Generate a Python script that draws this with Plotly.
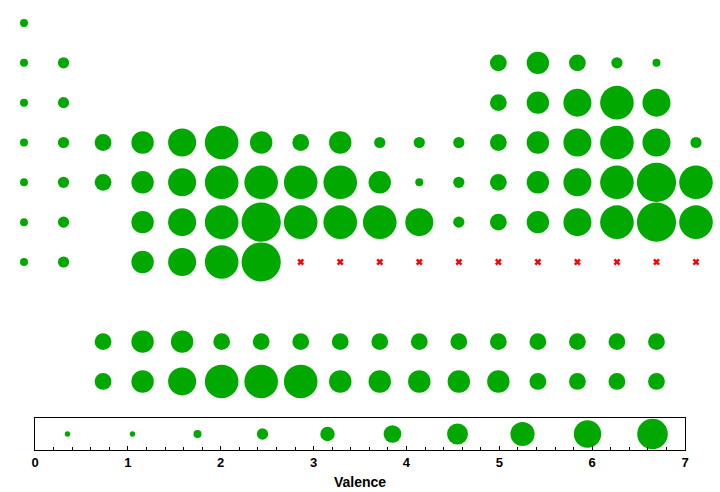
import plotly.graph_objects as go

# ---- data: periodic table valences ----
main_symbols = [
    "H", "He",
    "Li", "Be", "B", "C", "N", "O", "F", "Ne",
    "Na", "Mg", "Al", "Si", "P", "S", "Cl", "Ar",
    "K", "Ca", "Sc", "Ti", "V", "Cr", "Mn", "Fe", "Co", "Ni", "Cu", "Zn", "Ga", "Ge", "As", "Se", "Br", "Kr",
    "Rb", "Sr", "Y", "Zr", "Nb", "Mo", "Tc", "Ru", "Rh", "Pd", "Ag", "Cd", "In", "Sn", "Sb", "Te", "I", "Xe",
    "Cs", "Ba", "Hf", "Ta", "W", "Re", "Os", "Ir", "Pt", "Au", "Hg", "Tl", "Pb", "Bi", "Po", "At", "Rn",
    "Fr", "Ra", "Rf", "Db", "Sg", "Bh",
]
main_group = [
    1, 18,
    1, 2, 13, 14, 15, 16, 17, 18,
    1, 2, 13, 14, 15, 16, 17, 18,
    1, 2, 3, 4, 5, 6, 7, 8, 9, 10, 11, 12, 13, 14, 15, 16, 17, 18,
    1, 2, 3, 4, 5, 6, 7, 8, 9, 10, 11, 12, 13, 14, 15, 16, 17, 18,
    1, 2, 4, 5, 6, 7, 8, 9, 10, 11, 12, 13, 14, 15, 16, 17, 18,
    1, 2, 4, 5, 6, 7,
]
main_period = [
    1, 1,
    2, 2, 2, 2, 2, 2, 2, 2,
    3, 3, 3, 3, 3, 3, 3, 3,
    4, 4, 4, 4, 4, 4, 4, 4, 4, 4, 4, 4, 4, 4, 4, 4, 4, 4,
    5, 5, 5, 5, 5, 5, 5, 5, 5, 5, 5, 5, 5, 5, 5, 5, 5, 5,
    6, 6, 6, 6, 6, 6, 6, 6, 6, 6, 6, 6, 6, 6, 6, 6, 6,
    7, 7, 7, 7, 7, 7,
]
main_valence = [
    1, 0,
    1, 2, 3, 4, 3, 2, 1, 0,
    1, 2, 3, 4, 5, 6, 5, 0,
    1, 2, 3, 4, 5, 6, 4, 3, 4, 2, 2, 2, 3, 4, 5, 6, 5, 2,
    1, 2, 3, 4, 5, 6, 6, 6, 6, 4, 1, 2, 3, 4, 5, 6, 7, 6,
    1, 2, 4, 5, 6, 7, 6, 6, 6, 5, 2, 3, 4, 5, 6, 7, 6,
    1, 2, 4, 5, 6, 7,
]

lanthanides = ["La", "Ce", "Pr", "Nd", "Pm", "Sm", "Eu", "Gd", "Tb", "Dy", "Ho", "Er", "Tm", "Yb", "Lu"]
lanthanide_valence = [3, 4, 4, 3, 3, 3, 3, 3, 3, 3, 3, 3, 3, 3, 3]
actinides = ["Ac", "Th", "Pa", "U", "Np", "Pu", "Am", "Cm", "Bk", "Cf", "Es", "Fm", "Md", "No", "Lr"]
actinide_valence = [3, 4, 5, 6, 6, 6, 4, 4, 4, 4, 4, 3, 3, 3, 3]
fblock_group = [3, 4, 5, 6, 7, 8, 9, 10, 11, 12, 13, 14, 15, 16, 17]
lanthanide_row = 9
actinide_row = 10

missing_symbols = ["Hs", "Mt", "Ds", "Rg", "Cn", "Nh", "Fl", "Mc", "Lv", "Ts", "Og"]
missing_group = [8, 9, 10, 11, 12, 13, 14, 15, 16, 17, 18]
missing_period = [7, 7, 7, 7, 7, 7, 7, 7, 7, 7, 7]

legend_valence = [0.35, 1.05, 1.75, 2.45, 3.15, 3.85, 4.55, 5.25, 5.95, 6.65]

GREEN = "rgb(0,168,0)"
W, H = 720, 492

xs = main_group + fblock_group + fblock_group
ys = main_period + [lanthanide_row] * len(lanthanides) + [actinide_row] * len(actinides)
vals = main_valence + lanthanide_valence + actinide_valence
names = main_symbols + lanthanides + actinides

fig = go.Figure()
fig.add_trace(go.Scatter(
    x=xs, y=ys, mode="markers", text=names,
    marker=dict(size=vals, sizemode="diameter", sizeref=1 / 5.6, sizemin=4,
                color=GREEN, opacity=1, line=dict(width=0)),
    xaxis="x", yaxis="y", showlegend=False, cliponaxis=False,
    hovertemplate="%{text}: %{marker.size}<extra></extra>",
))
fig.add_trace(go.Scatter(
    x=missing_group, y=missing_period, mode="markers", text=missing_symbols,
    marker=dict(symbol="x", size=6, color="red", opacity=1, line=dict(width=0)),
    xaxis="x", yaxis="y", showlegend=False, cliponaxis=False,
))
fig.add_trace(go.Scatter(
    x=legend_valence, y=[0.5] * len(legend_valence), mode="markers",
    marker=dict(size=legend_valence, sizemode="diameter", sizeref=1 / 4.6, sizemin=2.7,
                color=GREEN, opacity=1, line=dict(width=0)),
    xaxis="x2", yaxis="y2", showlegend=False,
))

# pixel geometry of the table area
col_px0, col_px1 = 24, 696
row_px0, row_sp = 23, 39.83
col_sp = (col_px1 - col_px0) / 17
x0 = 1 - col_px0 / col_sp
x1 = x0 + W / col_sp
top_px = 400
r0 = 1 - row_px0 / row_sp
r1 = r0 + top_px / row_sp

box_l, box_r, box_t, box_b = 35, 685, 418, 450

font = dict(family="Liberation Sans, Arial, sans-serif", color="black")

fig.update_layout(
    width=W, height=H,
    margin=dict(l=0, r=0, t=0, b=0, pad=0, autoexpand=False),
    paper_bgcolor="white", plot_bgcolor="white",
    xaxis=dict(domain=[0, 1], range=[x0, x1], visible=False, fixedrange=True),
    yaxis=dict(domain=[(H - top_px) / H, 1], range=[r1, r0], visible=False, fixedrange=True),
    xaxis2=dict(
        domain=[box_l / W, box_r / W], range=[0, 7], anchor="y2",
        showline=True, linecolor="black", linewidth=1, mirror=True,
        showgrid=False, zeroline=False,
        tickmode="linear", tick0=0, dtick=1,
        ticks="inside", ticklen=4, tickcolor="black",
        minor=dict(dtick=0.2, tick0=0, ticks="inside", ticklen=3, tickcolor="black", showgrid=False),
        tickfont=dict(size=13, weight="bold", **font),
        title=dict(text="Valence", font=dict(size=14, weight="bold", **font), standoff=8),
    ),
    yaxis2=dict(
        domain=[(H - box_b) / H, (H - box_t) / H], range=[0, 1], anchor="x2",
        showline=True, linecolor="black", linewidth=1, mirror=True,
        showgrid=False, zeroline=False, showticklabels=False, ticks="",
    ),
)

fig.write_html("out.html")
